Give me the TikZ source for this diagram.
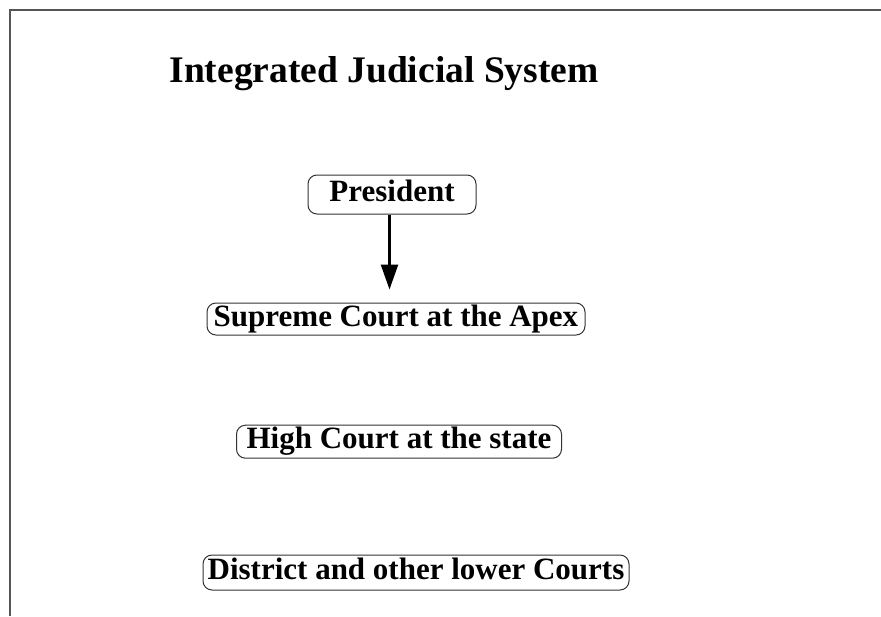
\documentclass[tikz,border=0pt]{standalone}
\usepackage{fontspec}
\setmainfont{Liberation Serif}
\usepackage{tikz}
\usetikzlibrary{arrows.meta,positioning}
\definecolor{framegray}{HTML}{555555}
\definecolor{boxline}{HTML}{333333}

\begin{document}
\begin{tikzpicture}[x=1pt,y=-1pt, every node/.style={font=\bfseries\fontsize{31}{31}\selectfont,align=center,inner sep=0pt,text height=21pt,text depth=7pt}]
\useasboundingbox (0,0) rectangle (881,616);
\draw[framegray,line width=1.6pt] (10,616)--(10,10)--(881,10);
\node[font=\bfseries\fontsize{37.5}{37.5}\selectfont,anchor=base,text height=,text depth=] (title) at (384,82) {Integrated Judicial System};
\node[draw=boxline,line width=1pt,rounded corners=9pt,minimum width=168pt,minimum height=39pt] (pres) at (392,194.5) {President};
\node[draw=boxline,line width=1pt,rounded corners=9pt,minimum width=378pt,minimum height=32pt] (sup) at (396,319) {Supreme Court at the Apex};
\node[draw=boxline,line width=1pt,rounded corners=9pt,minimum width=325pt,minimum height=33pt] (high) at (399,441.7) {High Court at the state};
\node[draw=boxline,line width=1pt,rounded corners=9pt,minimum width=426pt,minimum height=35pt] (dist) at (416,572.5) {District and other lower Courts};
\draw[-{Triangle[length=25pt,width=17pt]},line width=2.5pt,shorten >=13pt] ([xshift=-2.5pt]pres.south)--([xshift=-2.5pt]pres.south |- sup.north);
\end{tikzpicture}
\end{document}
